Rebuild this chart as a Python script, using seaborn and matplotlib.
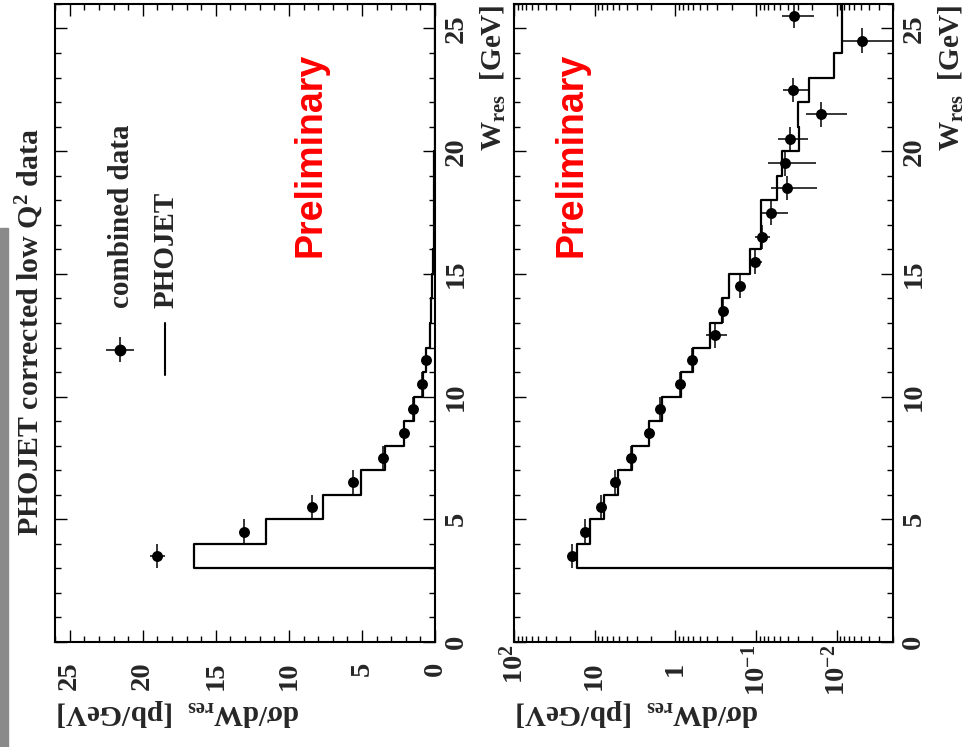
import numpy as np
import matplotlib
matplotlib.use('Agg')
import matplotlib.pyplot as plt
import seaborn as sns
from matplotlib.ticker import MultipleLocator, FixedLocator, LogLocator, NullFormatter, FuncFormatter
from matplotlib.transforms import ScaledTranslation
from matplotlib.patches import Rectangle

# measured points: W_res bin centres [GeV] and dsigma/dW [pb/GeV]
w_centers = [3.5, 4.5, 5.5, 6.5, 7.5, 8.5, 9.5, 10.5, 11.5, 12.5, 13.5, 14.5,
             15.5, 16.5, 17.5, 18.5, 19.5, 20.5, 21.5, 22.5, 24.5, 25.5]
dsig = [19.0, 13.05, 8.4, 5.6, 3.53, 2.12, 1.54, 0.88, 0.625, 0.325, 0.253, 0.158,
        0.103, 0.085, 0.0645, 0.0417, 0.0442, 0.0379, 0.0158, 0.0347, 0.00486, 0.0335]
dsig_err = [0.5, 0.3, 0.25, 0.15, 0.1, 0.07, 0.05, 0.03, 0.02, 0.095, 0.015, 0.012,
            0.019, 0.018, 0.024, 0.024, 0.026, 0.0155, 0.0084, 0.012, 0.0037, 0.0145]
w_halfbin = 0.5

# PHOJET histogram
w_edges = [3, 4, 5, 6, 7, 8, 9, 10, 11, 12, 13, 14, 15, 16, 17, 18, 19, 20, 21, 22,
           23, 24, 25, 26]
phojet = [16.5, 11.55, 7.7, 5.09, 3.42, 2.12, 1.45, 0.86, 0.607, 0.366, 0.264, 0.215,
          0.12, 0.0865, 0.0865, 0.054, 0.047, 0.029, 0.030, 0.0218, 0.0109, 0.00845, 0.00845]

sns.set_style('ticks')
plt.rcParams['font.family'] = ['Liberation Serif', 'DejaVu Sans']
plt.rcParams['font.weight'] = 'bold'
plt.rcParams['mathtext.fontset'] = 'custom'
plt.rcParams['mathtext.rm'] = 'Liberation Serif:bold'
plt.rcParams['mathtext.it'] = 'Liberation Serif:italic:bold'
plt.rcParams['mathtext.bf'] = 'Liberation Serif:bold'

w = np.array(w_centers)
d = np.array(dsig)
de = np.array(dsig_err)


def step_path(vals, edges, base):
    xs = [base]
    ys = [edges[0]]
    for i, v in enumerate(vals):
        xs += [v, v]
        ys += [edges[i], edges[i + 1]]
    return xs, ys


def style_axes(ax):
    for s in ax.spines.values():
        s.set_linewidth(1.5)
        s.set_color('black')
    ax.set_ylim(0, 26)
    ax.yaxis.set_major_locator(MultipleLocator(5))
    ax.yaxis.set_minor_locator(MultipleLocator(1))
    ax.tick_params(which='both', direction='in', top=True, bottom=True, left=True, right=True,
                   labelleft=False, labelright=True, labelbottom=True, labeltop=False,
                   labelsize=20.5, width=1.0, color='black')
    ax.tick_params(which='major', length=8.5)
    ax.tick_params(which='minor', length=4.5)
    ax.tick_params(axis='x', which='major', labelrotation=90, pad=14)
    ax.tick_params(axis='y', which='major', labelrotation=90, pad=6)
    ax.set_xlabel('')
    ax.set_ylabel('')
    ax.text(1.116, 1.0, r'W$_{\mathdefault{res}}$  [GeV]', transform=ax.transAxes,
            rotation=90, ha='left', va='top', fontsize=21)
    ax.text(0.005, -0.086, r'dσ/dW$_{\mathdefault{res}}$  [pb/GeV]', transform=ax.transAxes,
            rotation=180, ha='left', va='top', fontsize=21)


fig = plt.figure(figsize=(9.69, 7.47), dpi=100)
ax_lin = fig.add_axes([0.0568, 0.1406, 0.3922, 0.8541])
ax_log = fig.add_axes([0.5304, 0.1406, 0.3911, 0.8541])

# ---- linear panel
lin_lim = (26, 0)
hx, hy = step_path(phojet, w_edges, 0)
sns.lineplot(x=hx, y=hy, sort=False, estimator=None, color='black', lw=1.6, ax=ax_lin)
m = w < 12
ax_lin.errorbar(d[m], w[m], xerr=de[m], yerr=w_halfbin, fmt='none', ecolor='black',
                elinewidth=1.1, capsize=0, zorder=3)
sns.scatterplot(x=d[m], y=w[m], color='black', s=62, linewidth=0, ax=ax_lin, zorder=4)
ax_lin.set_xlim(*lin_lim)
ax_lin.xaxis.set_major_locator(MultipleLocator(5))
ax_lin.xaxis.set_minor_locator(MultipleLocator(1))
style_axes(ax_lin)

# legend
ax_lin.errorbar([0.171], [0.4577], xerr=[0.0368], yerr=[0.0196], transform=ax_lin.transAxes,
                fmt='o', color='black', ms=7.5, elinewidth=1.1, capsize=0, clip_on=False)
ax_lin.plot([0.2895, 0.2895], [0.4185, 0.50], transform=ax_lin.transAxes, color='black', lw=1.5)
ax_lin.text(0.176, 0.5235, 'combined data', transform=ax_lin.transAxes, rotation=90,
            ha='center', va='bottom', fontsize=21)
ax_lin.text(0.292, 0.5235, 'PHOJET', transform=ax_lin.transAxes, rotation=90,
            ha='center', va='bottom', fontsize=21)
ax_lin.text(0.672, 0.763, 'Preliminary', transform=ax_lin.transAxes, rotation=90,
            ha='center', va='center', fontsize=27, color='#ff0000',
            family='Liberation Sans', weight='bold')

# ---- log panel
log_lim = (100, 0.002)
ax_log.set_xscale('log')
hx, hy = step_path(phojet, w_edges, min(log_lim))
sns.lineplot(x=hx, y=hy, sort=False, estimator=None, color='black', lw=1.6, ax=ax_log)
ax_log.errorbar(d, w, xerr=de, yerr=w_halfbin, fmt='none', ecolor='black',
                elinewidth=1.1, capsize=0, zorder=3)
sns.scatterplot(x=d, y=w, color='black', s=62, linewidth=0, ax=ax_log, zorder=4)
ax_log.set_xlim(*log_lim)


def log_label(v, pos):
    e = int(round(np.log10(v)))
    if e == 0:
        return '1'
    if e == 1:
        return '10'
    return r'$\mathdefault{10^{%d}}$' % e


log_major = [1e-2, 1e-1, 1, 10, 100]
ax_log.xaxis.set_major_locator(FixedLocator(log_major))
ax_log.xaxis.set_major_formatter(FuncFormatter(log_label))
ax_log.xaxis.set_minor_locator(LogLocator(base=10, subs=np.arange(2, 10), numticks=20))
ax_log.xaxis.set_minor_formatter(NullFormatter())
style_axes(ax_log)
ax_log.text(0.153, 0.763, 'Preliminary', transform=ax_log.transAxes, rotation=90,
            ha='center', va='center', fontsize=27, color='#ff0000',
            family='Liberation Sans', weight='bold')

for ax in (ax_lin, ax_log):
    for t in ax.yaxis.get_major_ticks():
        t.label2.set_va('center')

# labels with an exponent sit closer to the axis, as in ROOT
shift = ScaledTranslation(0, 0.17, fig.dpi_scale_trans)
for t, v in zip(ax_log.xaxis.get_major_ticks(len(log_major)), log_major):
    if v not in (1, 10):
        t.label1.set_transform(t.label1.get_transform() + shift)

fig.text(0.031, 0.556, r'PHOJET corrected low Q$^{\mathdefault{2}}$ data', rotation=90,
         ha='center', va='center', fontsize=21.5)

# grey strip on the left edge
fig.add_artist(Rectangle((0, 0), 0.0083, 0.695, transform=fig.transFigure,
                         color='#8a8a8a', zorder=0))

fig.savefig('out.png', dpi=100)
